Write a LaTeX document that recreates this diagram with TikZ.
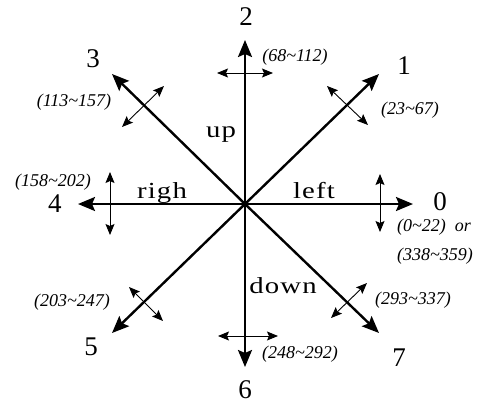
\documentclass[tikz,border=0pt]{standalone}
\usepackage{fontspec}
\usepackage{graphicx}
\setmainfont{Liberation Serif}
\newfontfamily\wordfont[LetterSpace=4]{Liberation Serif}
\newcommand{\widetext}[1]{\scalebox{1.25}[1]{#1}}
\usetikzlibrary{arrows.meta}
\begin{document}
\begin{tikzpicture}[x=1pt,y=-1pt,
  mainarrow/.style={line width=2.4pt,-{Stealth[length=17pt,width=14pt,inset=3pt]}},
  smallarrow/.style={line width=0.9pt,{Stealth[length=11pt,width=9pt,inset=2pt]}-{Stealth[length=11pt,width=9pt,inset=2pt]}},
  dirlabel/.style={font=\fontsize{27}{29}\selectfont, inner sep=0pt},
  rangelabel/.style={font=\itshape\fontsize{18}{20}\selectfont, inner sep=0pt},
  wordlabel/.style={font=\wordfont\fontsize{23}{25}\selectfont, inner sep=0pt, anchor=base}]
\useasboundingbox (0,0) rectangle (480,405);
% centre and arrow tips
\coordinate (O) at (245,204);
\coordinate (E0) at (413,204);
\coordinate (E1) at (379,74);
\coordinate (E2) at (245,40);
\coordinate (E3) at (112,74);
\coordinate (E4) at (78,204);
\coordinate (E5) at (112,333);
\coordinate (E6) at (245,367);
\coordinate (E7) at (379,333);
\foreach \k in {0,...,7} {\draw[mainarrow] (O) -- (E\k);}
% small double arrows
\coordinate (a2s) at (217,73);  \coordinate (a2e) at (273,73);
\coordinate (a1s) at (327,86);  \coordinate (a1e) at (368,125);
\coordinate (a3s) at (122,127); \coordinate (a3e) at (164,86);
\coordinate (a0s) at (380,174); \coordinate (a0e) at (380,232);
\coordinate (a4s) at (110,172); \coordinate (a4e) at (110,235);
\coordinate (a5s) at (129,287); \coordinate (a5e) at (163,321);
\coordinate (a6s) at (218,336); \coordinate (a6e) at (278,336);
\coordinate (a7s) at (331,318); \coordinate (a7e) at (367,283);
\foreach \k in {0,...,7} {\draw[smallarrow] (a\k s) -- (a\k e);}
% direction numbers
\node[dirlabel] (n0) at (440,202) {0};
\node[dirlabel] (n1) at (404,66) {1};
\node[dirlabel] (n2) at (246,17) {2};
\node[dirlabel] (n3) at (93,59) {3};
\node[dirlabel] (n4) at (55,204) {4};
\node[dirlabel] (n5) at (91,347) {5};
\node[dirlabel] (n6) at (245,390) {6};
\node[dirlabel] (n7) at (399,358) {7};
% ranges
\node[rangelabel] (r2) at (295,57) {(68\char`\~112)};
\node[rangelabel] (r1) at (410,110) {(23\char`\~67)};
\node[rangelabel] (r3) at (74,102) {(113\char`\~157)};
\node[rangelabel] (r4) at (53,182) {(158\char`\~202)};
\node[rangelabel, anchor=west] (r0a) at (397,227) {(0\char`\~22)\ \ or};
\node[rangelabel] (r0b) at (435,256) {(338\char`\~359)};
\node[rangelabel] (r5) at (72,302) {(203\char`\~247)};
\node[rangelabel] (r6) at (300,354) {(248\char`\~292)};
\node[rangelabel] (r7) at (413,300) {(293\char`\~337)};
% words
\node[wordlabel] (wup) at (221,137) {\widetext{up}};
\node[wordlabel] (wrigh) at (162,198) {\widetext{righ}};
\node[wordlabel] (wleft) at (314,198) {\widetext{left}};
\node[wordlabel] (wdown) at (283,293) {\widetext{down}};
\end{tikzpicture}
\end{document}
